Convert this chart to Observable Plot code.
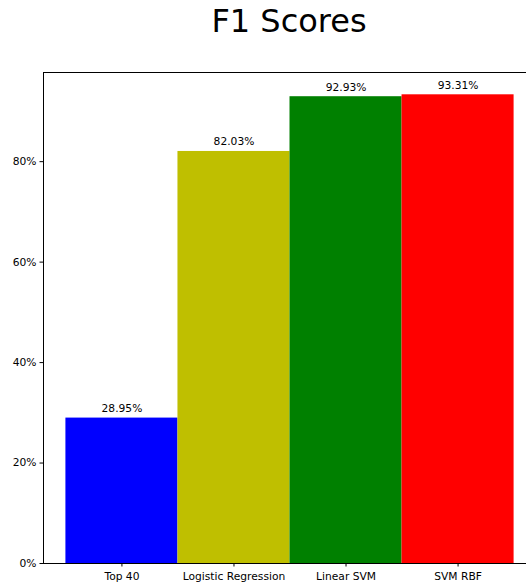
<!DOCTYPE html>
<html>
<head>
<meta charset="utf-8">
<script src="https://cdn.jsdelivr.net/npm/d3@7"></script>
<script src="https://cdn.jsdelivr.net/npm/@observablehq/plot@0.6"></script>
<style>
  html, body { margin: 0; padding: 0; background: #fff; overflow: hidden; }
  #wrap { width: 526px; overflow: hidden; font-family: "DejaVu Sans", sans-serif; }
  #title { width: 536px; height: 60px; position: relative; }
  #title span { position: absolute; left: 289px; top: 2px; transform: translateX(-50%);
    font-size: 32px; color: #000; white-space: nowrap; }
  #chart { width: 536px; }
  #chart svg { max-width: none !important; display: block; }
</style>
</head>
<body>
<div id="wrap">
  <div id="title"><span>F1 Scores</span></div>
  <div id="chart"></div>
</div>
<script>
// F1 score per model
const models = ["Top 40", "Logistic Regression", "Linear SVM", "SVM RBF"];
const scores = [0.2895, 0.8203, 0.9293, 0.9331];
const colors = ["#0000ff", "#bfbf00", "#008000", "#ff0000"];
const yTicks = [0, 0.2, 0.4, 0.6, 0.8];

const data = models.map((m, i) => ({ model: m, score: scores[i], color: colors[i] }));
const yTop = 0.9775;
const fs = 10.7;

const chart = Plot.plot({
  width: 536,
  height: 524,
  marginTop: 12,
  marginLeft: 43,
  marginRight: 0,
  marginBottom: 21,
  style: { fontFamily: "DejaVu Sans, sans-serif", fontSize: fs + "px", color: "#000", background: "#fff" },
  x: { type: "band", domain: models, paddingInner: 0, paddingOuter: 0.2, round: false, label: null },
  y: { domain: [0, yTop], label: null },
  marks: [
    Plot.barY(data, { x: "model", y: "score", fill: "color", inset: 0 }),
    Plot.text(data, {
      x: "model", y: "score", text: d => (d.score * 100).toFixed(2) + "%",
      dy: -9.5, fill: "#000", fontSize: fs
    }),
    Plot.axisY(yTicks, {
      tickFormat: d => Math.round(d * 100) + "%",
      tickSize: 3.5, tickPadding: 3.5, stroke: "#000", fill: "#000", fontSize: fs
    }),
    Plot.axisX({ tickSize: 3.5, tickPadding: 5, stroke: "#000", fill: "#000", fontSize: fs }),
    Plot.frame({ stroke: "#000", strokeWidth: 1 })
  ]
});
document.getElementById("chart").appendChild(chart);
</script>
</body>
</html>
